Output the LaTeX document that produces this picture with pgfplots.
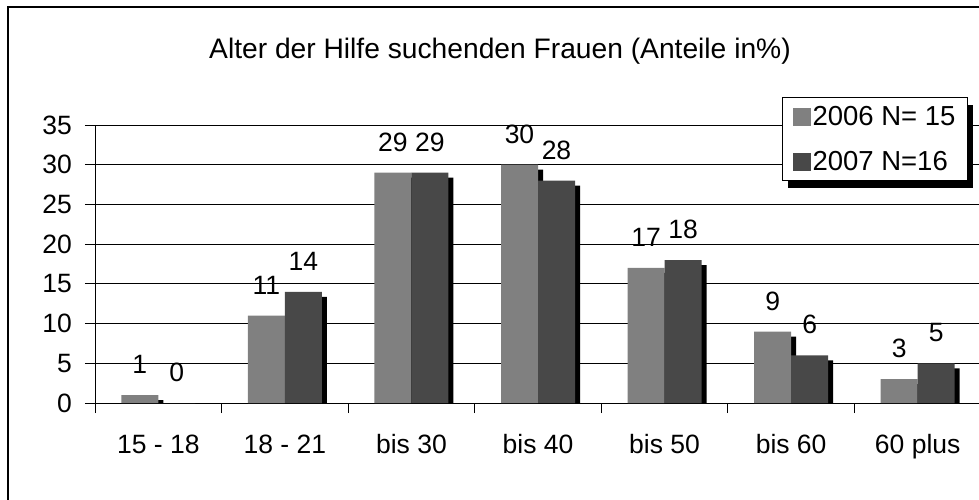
\documentclass[border=0pt]{standalone}
\usepackage{fontspec}
\setmainfont{Liberation Sans}
\usepackage{pgfplots}
\pgfplotsset{compat=1.18}
\usetikzlibrary{shadows}
\definecolor{lightbar}{RGB}{128,128,128}
\definecolor{darkbar}{RGB}{72,72,72}
\newcommand\bigf{\fontsize{26.5}{31}\selectfont}
\begin{document}
\begin{tikzpicture}[x=1pt,y=1pt]
\useasboundingbox (-95,-96) rectangle (884,403);
\clip (-95,-96) rectangle (884,403);
\draw[line width=2pt] (-87,-200) -- (-87,396) -- (1000,396);
\node[font=\fontsize{28.2}{33}\selectfont, anchor=base] at (405,344) {Alter der Hilfe suchenden Frauen (Anteile in\%)};
\begin{axis}[
  at={(0,0)}, anchor=south west,
  scale only axis, width=886pt, height=278pt,
  xmin=-0.5, xmax=6.5, ymin=0, ymax=35,
  ytick={0,5,...,35},
  xtick={0,...,6},
  xticklabels={15 - 18, 18 - 21, bis 30, bis 40, bis 50, bis 60, 60 plus},
  minor xtick={-0.5,0.5,...,6.5},
  axis x line*=bottom, axis y line*=left,
  tick align=outside,
  major tick length=10pt, minor tick length=10pt,
  major x tick style={draw=none},
  minor x tick style={black, line width=1pt},
  ytick style={black, line width=1pt},
  ymajorgrids, grid style={black, line width=1pt},
  axis line style={black, line width=1pt},
  tick label style={font=\bigf},
  /pgf/number format/assume math mode=true,
  yticklabel style={anchor=east, inner sep=0pt, xshift=-13pt},
  xticklabel style={anchor=base, inner sep=0pt, yshift=-40pt},
  ybar, bar width=37pt,
  nodes near coords,
  nodes near coords style={font=\bigf, anchor=south, inner sep=0pt, yshift=21pt, text=black},
  legend style={at={(0.9853,1.1007)}, anchor=north east, draw=black, line width=1pt, fill=white,
    font=\fontsize{27.5}{32}\selectfont, inner xsep=10pt, inner ysep=7pt, row sep=20pt,
    cells={anchor=west, inner ysep=0pt, inner xsep=5pt},
    drop shadow={shadow xshift=5.5pt, shadow yshift=-7pt, opacity=1, fill=black}},
]
\addplot[fill=lightbar, draw=none, bar shift=-18.5pt,
  preaction={fill=black, transform canvas={shift={(5pt,-5pt)}}},
  legend image code/.code={\pgfsetfillcolor{lightbar}\pgfpathrectangle{\pgfpoint{0pt}{-9pt}}{\pgfpoint{18pt}{18pt}}\pgfusepath{fill}}]
  coordinates {(0,1) (1,11) (2,29) (3,30) (4,17) (5,9) (6,3)};
\addplot[fill=darkbar, draw=none, bar shift=18.5pt,
  preaction={fill=black, transform canvas={shift={(5pt,-5pt)}}},
  legend image code/.code={\pgfsetfillcolor{darkbar}\pgfpathrectangle{\pgfpoint{0pt}{-9pt}}{\pgfpoint{18pt}{18pt}}\pgfusepath{fill}}]
  coordinates {(0,0) (1,14) (2,29) (3,28) (4,18) (5,6) (6,5)};
\legend{2006 N= 15, 2007 N=16}
\end{axis}
\end{tikzpicture}
\end{document}
